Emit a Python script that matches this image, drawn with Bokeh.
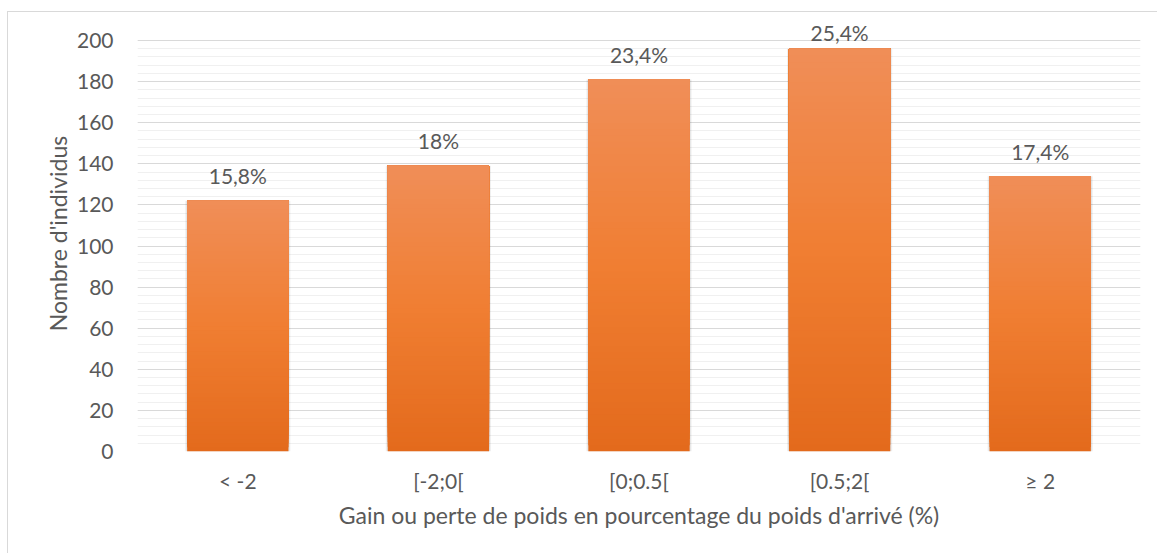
from bokeh.plotting import figure
from bokeh.models import ColumnDataSource, FactorRange, FixedTicker, LabelSet, Title
from bokeh.core.properties import value
from bokeh.embed import file_html
from bokeh.resources import INLINE

categories = ["< -2", "[-2;0[", "[0;0.5[", "[0.5;2[", "≥ 2"]
counts = [122, 139, 181, 196, 134]
pct_labels = ["15,8%", "18%", "23,4%", "25,4%", "17,4%"]
y_major = list(range(0, 201, 20))
y_minor = list(range(0, 201, 4))

FONT = "Lato"
TXT = "#595959"

p = figure(x_range=FactorRange(*categories), y_range=(0, 200 * 436 / 411),
           width=1150, height=542, output_backend="svg", toolbar_location=None,
           min_border_left=129, min_border_right=18, min_border_top=3, min_border_bottom=103)
p.styles = {"border-top": "1px solid #d9d9d9", "border-left": "1px solid #d9d9d9",
            "margin-left": "7px", "margin-top": "11px"}

# gradient bars built from overlapping slices of each value
top_c = (240, 142, 88)
mid_c = (240, 126, 50)
bot_c = (227, 106, 28)
N = 60
def lerp(a, b, t):
    return tuple(int(round(a[k] + (b[k] - a[k]) * t)) for k in range(3))

xs, bots, tops, cols = [], [], [], []
for i in range(N):
    t = (i + 0.5) / N  # 0 bottom -> 1 top
    if t < 0.5:
        col = lerp(bot_c, mid_c, t / 0.5)
    else:
        col = lerp(mid_c, top_c, (t - 0.5) / 0.5)
    for c, v in zip(categories, counts):
        xs.append(c)
        bots.append(v * i / N)
        tops.append(v)
        cols.append("#%02x%02x%02x" % col)

# soft shadow
p.vbar(x=categories, top=counts, width=0.525, bottom=0, fill_color="black", fill_alpha=0.06, line_color=None)
p.vbar(x=categories, top=counts, width=0.515, bottom=0, fill_color="black", fill_alpha=0.06, line_color=None)

src = ColumnDataSource(dict(x=xs, bottom=bots, top=tops, color=cols))
p.vbar(x="x", bottom="bottom", top="top", width=0.505, fill_color="color", line_color=None, source=src)

# data labels above bars, kept inside the chart area
label_y = [min(v + 12.2, 203.9) for v in counts]
lab = ColumnDataSource(dict(x=categories, y=label_y, t=pct_labels))
p.add_layout(LabelSet(x="x", y="y", text="t", source=lab, text_align="center", text_baseline="middle",
                      text_font=value(FONT), text_font_size="21px", text_color=TXT))

p.yaxis.ticker = FixedTicker(ticks=y_major, minor_ticks=y_minor)
p.ygrid.ticker = p.yaxis.ticker
p.ygrid.grid_line_color = "#d9d9d9"
p.ygrid.minor_grid_line_color = "#f0f0f0"
p.xgrid.grid_line_color = None
p.outline_line_color = None

for ax in (p.xaxis, p.yaxis):
    ax.axis_line_color = None
    ax.major_tick_line_color = None
    ax.minor_tick_line_color = None
    ax.major_label_text_font = FONT
    ax.major_label_text_font_size = "21px"
    ax.major_label_text_color = TXT
    ax.axis_label_text_font = FONT
    ax.axis_label_text_font_size = "23px"
    ax.axis_label_text_color = TXT
    ax.axis_label_text_font_style = "normal"

p.yaxis.major_label_standoff = 18
p.xaxis.major_label_standoff = 10
p.xaxis.axis_label = "Gain ou perte de poids en pourcentage du poids d'arrivé (%)"
p.xaxis.axis_label_standoff = 5

# y-axis title as a side title, shifted to centre on the 0-200 span
p.add_layout(Title(text="Nombre d'individus", align="center", offset=30, standoff=4,
                   text_font=FONT, text_font_size="23px", text_color=TXT,
                   text_font_style="normal"), "left")

open("out.html", "w").write(file_html(p, INLINE))
